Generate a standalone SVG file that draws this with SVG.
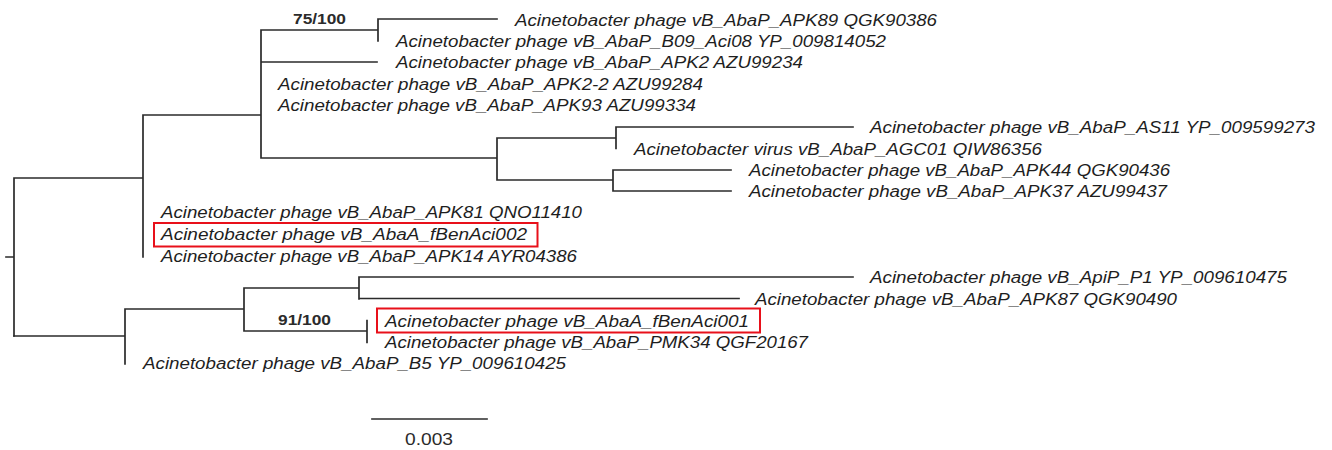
<svg xmlns="http://www.w3.org/2000/svg" width="1332" height="450" viewBox="0 0 1332 450">
<style>
  .br { fill: none; stroke: #2b2b2b; stroke-width: 1.7; stroke-linecap: square; }
  .lb { font-family: "Liberation Sans", Arial, sans-serif; font-style: italic; font-size: 16px; fill: #1e1e1e; }
  .bs { font-family: "Liberation Sans", Arial, sans-serif; font-weight: bold; font-size: 14px; fill: #2b2b2b; }
  .sc { font-family: "Liberation Sans", Arial, sans-serif; font-size: 16px; fill: #2b2b2b; }
  .hl { fill: none; stroke: #e8101a; stroke-width: 2; }
</style>
<rect width="1332" height="450" fill="#ffffff"/>
<g id="connectors">
  <path class="br" d="M6,257 H14 M14,178 V336 M14,178 H143 M143,115 V257 M143,115 H261 M261,30 V158 M261,30 H378 M378,19 V41 M378,19 H497 M261,62 H377 M261,158 H497 M497,138 V180 M497,138 H616 M616,127 V148.5 M616,127 H853 M497,180 H613 M613,170 V191 M613,170 H731 M613,191 H731"/>
  <path class="br" d="M14,336 H125 M125,309 V364 M125,309 H244 M244,288 V331 M244,288 H359 M359,277 V299 M359,277 H853 M359,298.5 H739 M244,331 H367 M367,320.5 V342.5"/>
  <path class="br" d="M372,419 H487"/>
</g>
<g id="bootstrap">
  <text class="bs" x="293" y="23.5" textLength="53" lengthAdjust="spacingAndGlyphs">75/100</text>
  <text class="bs" x="278" y="324.5" textLength="53" lengthAdjust="spacingAndGlyphs">91/100</text>
</g>
<g id="n-apk89"><text class="lb" x="515" y="25.5" textLength="422" lengthAdjust="spacingAndGlyphs">Acinetobacter phage vB_AbaP_APK89 QGK90386</text></g>
<g id="n-b09"><text class="lb" x="396" y="46.5" textLength="490" lengthAdjust="spacingAndGlyphs">Acinetobacter phage vB_AbaP_B09_Aci08 YP_009814052</text></g>
<g id="n-apk2"><text class="lb" x="396" y="68" textLength="407" lengthAdjust="spacingAndGlyphs">Acinetobacter phage vB_AbaP_APK2 AZU99234</text></g>
<g id="n-apk2-2"><text class="lb" x="278" y="89.5" textLength="425" lengthAdjust="spacingAndGlyphs">Acinetobacter phage vB_AbaP_APK2-2 AZU99284</text></g>
<g id="n-apk93"><text class="lb" x="278" y="111" textLength="418" lengthAdjust="spacingAndGlyphs">Acinetobacter phage vB_AbaP_APK93 AZU99334</text></g>
<g id="n-as11"><text class="lb" x="870" y="133" textLength="445" lengthAdjust="spacingAndGlyphs">Acinetobacter phage vB_AbaP_AS11 YP_009599273</text></g>
<g id="n-agc01"><text class="lb" x="634" y="154.5" textLength="408" lengthAdjust="spacingAndGlyphs">Acinetobacter virus vB_AbaP_AGC01 QIW86356</text></g>
<g id="n-apk44"><text class="lb" x="749" y="176" textLength="421" lengthAdjust="spacingAndGlyphs">Acinetobacter phage vB_AbaP_APK44 QGK90436</text></g>
<g id="n-apk37"><text class="lb" x="749" y="197" textLength="418" lengthAdjust="spacingAndGlyphs">Acinetobacter phage vB_AbaP_APK37 AZU99437</text></g>
<g id="n-apk81"><text class="lb" x="161" y="218" textLength="421" lengthAdjust="spacingAndGlyphs">Acinetobacter phage vB_AbaP_APK81 QNO11410</text></g>
<g id="n-fbenaci002">
  <rect class="hl" x="154" y="223" width="383.5" height="23.5"/>
  <text class="lb" x="161" y="240" textLength="366" lengthAdjust="spacingAndGlyphs">Acinetobacter phage vB_AbaA_fBenAci002</text>
</g>
<g id="n-apk14"><text class="lb" x="161" y="262" textLength="416" lengthAdjust="spacingAndGlyphs">Acinetobacter phage vB_AbaP_APK14 AYR04386</text></g>
<g id="n-p1"><text class="lb" x="870" y="283" textLength="417" lengthAdjust="spacingAndGlyphs">Acinetobacter phage vB_ApiP_P1 YP_009610475</text></g>
<g id="n-apk87"><text class="lb" x="755" y="304.5" textLength="422" lengthAdjust="spacingAndGlyphs">Acinetobacter phage vB_AbaP_APK87 QGK90490</text></g>
<g id="n-fbenaci001">
  <rect class="hl" x="377" y="308.5" width="383" height="24"/>
  <text class="lb" x="385" y="326.5" textLength="364" lengthAdjust="spacingAndGlyphs">Acinetobacter phage vB_AbaA_fBenAci001</text>
</g>
<g id="n-pmk34"><text class="lb" x="385" y="347.5" textLength="423" lengthAdjust="spacingAndGlyphs">Acinetobacter phage vB_AbaP_PMK34 QGF20167</text></g>
<g id="n-b5"><text class="lb" x="143" y="369" textLength="423" lengthAdjust="spacingAndGlyphs">Acinetobacter phage vB_AbaP_B5 YP_009610425</text></g>
<g id="scale">
  <text class="sc" x="405" y="445" textLength="48" lengthAdjust="spacingAndGlyphs">0.003</text>
</g>
</svg>
